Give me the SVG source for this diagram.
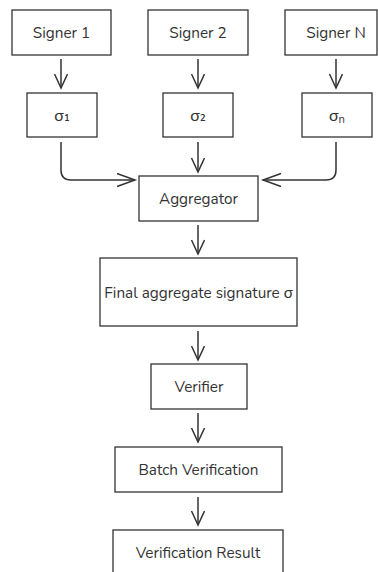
<svg xmlns="http://www.w3.org/2000/svg" width="378" height="572" viewBox="0 0 378 572">
<style>
.box{fill:#fff;stroke:#333;stroke-width:1.3}
.lbl{font-family:"Nunito","Lato","Noto Sans",sans-serif;font-size:15.3px;fill:#333;text-anchor:middle;dominant-baseline:central}
.sg{font-size:16px}
.con{fill:none;stroke:#333;stroke-width:1.5}
</style>
<defs>
<marker id="av" markerUnits="userSpaceOnUse" markerWidth="20" markerHeight="20" refX="15" refY="7" orient="auto" viewBox="0 0 20 20">
<path d="M1,0.5 L15,7 L1,13.5" fill="none" stroke="#333" stroke-width="1.5"/>
</marker>
<marker id="ah" markerUnits="userSpaceOnUse" markerWidth="22" markerHeight="20" refX="19" refY="7" orient="auto" viewBox="0 0 22 20">
<path d="M1,0.5 L19,7 L1,13.5" fill="none" stroke="#333" stroke-width="1.5"/>
</marker>
</defs>
<rect width="378" height="572" fill="#fff"/>
<g id="signer1"><rect class="box" x="12" y="10" width="99" height="45"/><text class="lbl" x="61.5" y="33">Signer 1</text></g>
<g id="signer2"><rect class="box" x="148" y="10" width="100" height="45"/><text class="lbl" x="198" y="33">Signer 2</text></g>
<g id="signerN"><rect class="box" x="285" y="10" width="92" height="45"/><text class="lbl" x="336" y="33">Signer N</text></g>
<g id="sigma1"><rect class="box" x="27" y="93" width="70" height="44"/><text class="lbl sg" x="62" y="116">σ₁</text></g>
<g id="sigma2"><rect class="box" x="163" y="93" width="70" height="44"/><text class="lbl sg" x="198" y="116">σ₂</text></g>
<g id="sigmaN"><rect class="box" x="302" y="93" width="70" height="44"/><text class="lbl sg" x="337" y="116">σₙ</text></g>
<g id="aggregator"><rect class="box" x="139" y="176" width="119" height="45"/><text class="lbl" x="198.5" y="199">Aggregator</text></g>
<g id="final"><rect class="box" x="100" y="258" width="197" height="68"/><text class="lbl" x="198.5" y="293">Final aggregate signature σ</text></g>
<g id="verifier"><rect class="box" x="151" y="364" width="96" height="45"/><text class="lbl" x="199" y="387">Verifier</text></g>
<g id="batch"><rect class="box" x="115" y="447" width="167" height="45"/><text class="lbl" x="198.5" y="470">Batch Verification</text></g>
<g id="result"><rect class="box" x="113" y="530" width="170" height="50"/><text class="lbl" x="198" y="553">Verification Result</text></g>
<g id="connectors">
<path class="con" d="M61,59 L61,88" marker-end="url(#av)"/>
<path class="con" d="M198,59 L198,88" marker-end="url(#av)"/>
<path class="con" d="M336,59 L336,88" marker-end="url(#av)"/>
<path class="con" d="M61,142 L61,170 Q61,180 71,180 L135,180" marker-end="url(#ah)"/>
<path class="con" d="M198,142 L198,172" marker-end="url(#av)"/>
<path class="con" d="M336,142 L336,170 Q336,180 326,180 L263,180" marker-end="url(#ah)"/>
<path class="con" d="M198,225 L198,254" marker-end="url(#av)"/>
<path class="con" d="M198,331 L198,360" marker-end="url(#av)"/>
<path class="con" d="M198,413 L198,442" marker-end="url(#av)"/>
<path class="con" d="M198,497 L198,525" marker-end="url(#av)"/>
</g>
</svg>
